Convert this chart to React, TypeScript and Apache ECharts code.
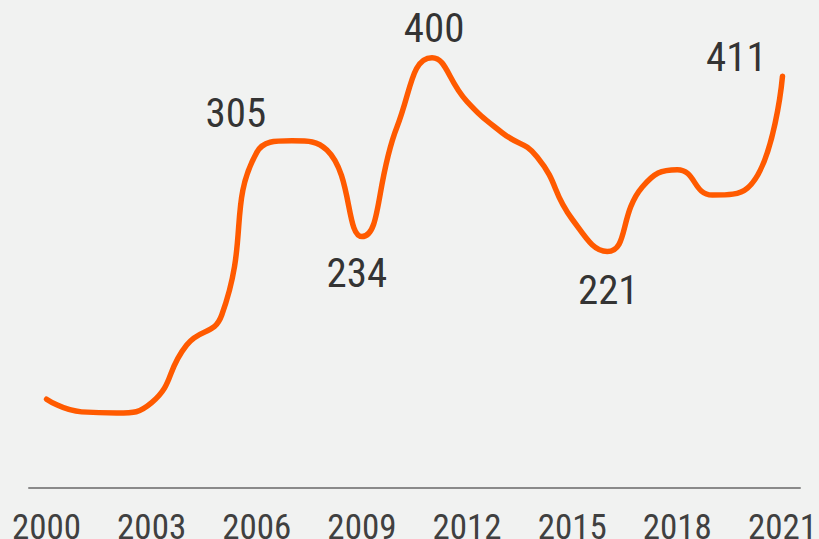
import React, { useEffect, useRef } from "react";
import * as echarts from "echarts";

const years = [
  "2000", "2001", "2002", "2003", "2004", "2005", "2006", "2007", "2008", "2009", "2010",
  "2011", "2012", "2013", "2014", "2015", "2016", "2017", "2018", "2019", "2020", "2021",
];
const values = [
  93, 82, 81, 90, 140, 166, 307, 317, 309, 234, 329,
  389, 351, 324, 303, 249, 221, 277, 292, 270, 276, 373,
];
// annotation texts shown on selected years
const labelYears = ["2006", "2009", "2011", "2016", "2021"];
const labelTexts = ["305", "234", "400", "221", "411"];

const labelOffsets: Record<string, [number, number]> = {
  "2006": [-21, -39],
  "2009": [-5, 36],
  "2011": [2, -30],
  "2016": [1, 38],
  "2021": [-46, -19],
};

const FONT = "'Roboto Condensed', 'DejaVu Sans Condensed', sans-serif";

export default function App() {
  const ref = useRef<HTMLDivElement>(null);
  useEffect(() => {
    document.body.style.margin = "0";
    const chart = echarts.init(ref.current!, undefined, { renderer: "svg" });
    const labelData = years.map((y, i) => {
      const k = labelYears.indexOf(y);
      if (k < 0) return "-";
      return {
        value: values[i],
        label: {
          show: true,
          formatter: labelTexts[k],
          position: "inside",
          offset: labelOffsets[y],
          color: "#000000",
          textBorderWidth: 0,
        },
      };
    });
    chart.setOption({
      animation: false,
      backgroundColor: "#f1f2f1",
      grid: { left: 29, right: 19, top: 22, bottom: 51, outerBoundsMode: "none", containLabel: false },
      xAxis: {
        type: "category",
        data: years,
        boundaryGap: true,
        axisLine: { show: true, lineStyle: { color: "#8a8a8a", width: 2 } },
        axisTick: { show: false },
        axisLabel: {
          interval: 2,
          color: "#404040",
          fontFamily: FONT,
          fontSize: 35,
          margin: 22,
          hideOverlap: false,
        },
      },
      yAxis: {
        type: "value",
        min: 16,
        max: 420,
        show: false,
        splitLine: { show: false },
      },
      series: [
        {
          type: "line",
          data: values,
          smooth: 0.5,
          showSymbol: false,
          symbol: "none",
          lineStyle: { color: "#ff5a00", width: 5.5, cap: "round", join: "round" },
        },
        {
          type: "scatter",
          data: labelData,
          symbolSize: 1,
          itemStyle: { color: "transparent" },
          label: {
            color: "#000000",
            fontFamily: FONT,
            fontSize: 41,
            textBorderWidth: 0,
          },
          silent: true,
        },
      ],
    });
    return () => chart.dispose();
  }, []);
  return <div ref={ref} style={{ width: 819, height: 539 }} />;
}
